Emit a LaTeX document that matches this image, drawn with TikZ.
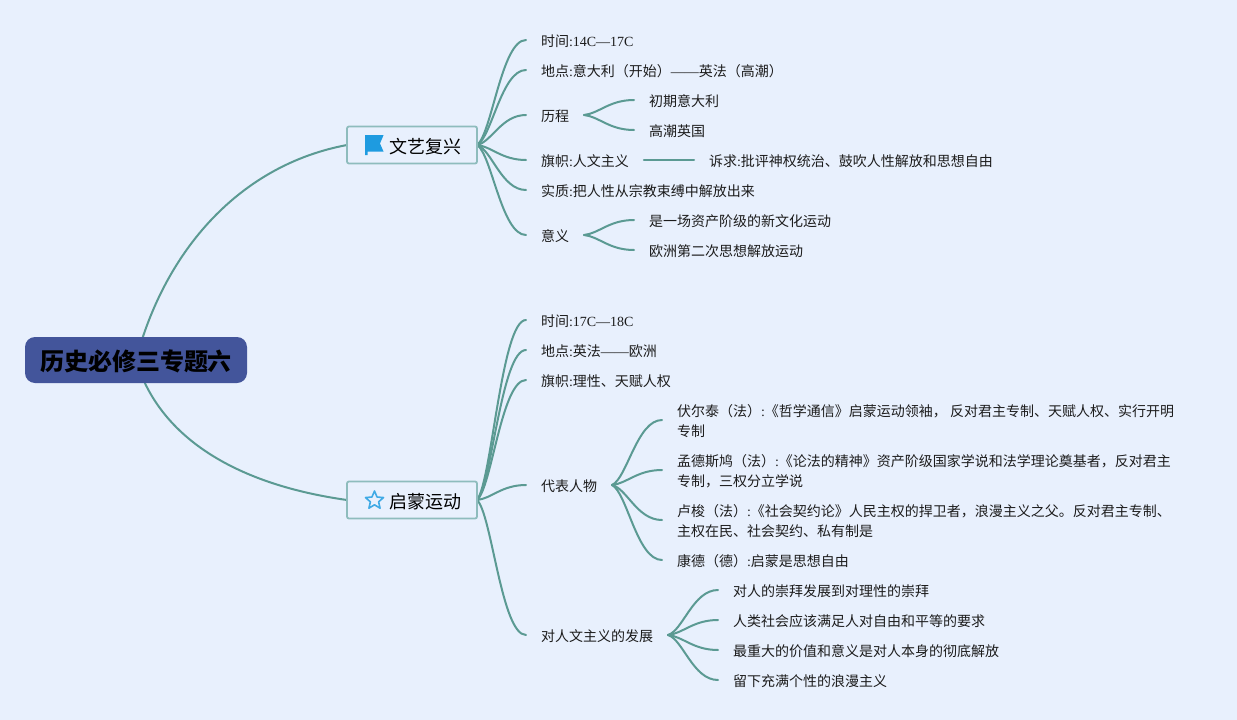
\documentclass[tikz,border=0pt]{standalone}
\usepackage{fontspec}
\setmainfont{Noto Sans CJK SC}
\newfontfamily\lat{Liberation Serif}
\usetikzlibrary{calc,backgrounds,shapes.geometric}
\definecolor{bgc}{HTML}{E8F0FD}
\definecolor{linkc}{HTML}{5B9A93}
\definecolor{rootc}{HTML}{43559B}
\definecolor{boxline}{HTML}{8EBCBD}
\definecolor{iconc}{HTML}{1E9BE0}
\definecolor{ink}{HTML}{1C1C1C}
\newcommand\La[1]{{\lat #1}}
\newcommand\conn[2]{\draw[link] (#1) .. controls ($0.7*(#1)+0.1*(#2)+0.2*(#2 |- #1)$) and ($(#1 |- #2)!0.5!(#2)$) .. (#2);}
\tikzset{
  link/.style={draw=linkc,line width=2pt,line cap=round},
  leaf/.style={anchor=west,inner xsep=15pt,inner ysep=0pt,outer sep=0pt,align=left,text=ink,text height=12pt,text depth=0pt,font=\fontsize{14}{20}\selectfont},
  twoline/.style={text height=32pt},
  branch/.style={draw=boxline,line width=1.8pt,fill=bgc,rounded corners=2pt,minimum width=130pt,minimum height=37pt,inner sep=0pt,outer sep=0pt,text=black,text height=16pt,text depth=0pt,font=\fontsize{18}{22}\selectfont},
  rootbox/.style={fill=rootc,rounded corners=10pt,minimum width=222pt,minimum height=46pt,inner sep=0pt,text=black,text height=20.6pt,text depth=0pt,font=\fontsize{24}{28}\selectfont\bfseries},
}
\begin{document}
\begin{tikzpicture}[x=1pt,y=-1pt]
\useasboundingbox (0,0) rectangle (1237,720);
\node[rootbox] (root) at (136,360) {历史必修三专题六};
\node[branch] (b1) at (412,145) {\hspace{26pt}文艺复兴};
\node[branch] (b2) at (412,500) {\hspace{26pt}启蒙运动};
\fill[iconc] (365,135) -- (383.6,135) -- (380,143.5) -- (383.6,151.7) -- (367.7,151.7) -- (367.7,155) -- (365,155) -- cycle;
\node[star,star points=5,star point ratio=2.2,draw=iconc!85!white,line width=1.6pt,line join=round,minimum size=19pt,inner sep=0pt] (staricon) at (374.5,500.5) {};
% first branch
\node[leaf] (a1) at (526,40) {时间\La{:14C—17C}};
\node[leaf] (a2) at (526,70) {地点\La{:}意大利（开始）\La{——}英法（高潮）};
\node[leaf] (a3) at (526,115) {历程};
\node[leaf] (a31) at (634,100) {初期意大利};
\node[leaf] (a32) at (634,130) {高潮英国};
\node[leaf] (a4) at (526,160) {旗帜\La{:}人文主义};
\node[leaf] (a41) at (694,160) {诉求\La{:}批评神权统治、鼓吹人性解放和思想自由};
\node[leaf] (a5) at (526,190) {实质\La{:}把人性从宗教束缚中解放出来};
\node[leaf] (a6) at (526,235) {意义};
\node[leaf] (a61) at (634,220) {是一场资产阶级的新文化运动};
\node[leaf] (a62) at (634,250) {欧洲第二次思想解放运动};
% second branch
\node[leaf] (c1) at (526,320) {时间\La{:17C—18C}};
\node[leaf] (c2) at (526,350) {地点\La{:}英法\La{——}欧洲};
\node[leaf] (c3) at (526,380) {旗帜\La{:}理性、天赋人权};
\node[leaf] (c4) at (526,485) {代表人物};
\node[leaf,twoline] (c41) at (662,420) {伏尔泰（法）\La{:}《哲学通信》启蒙运动领袖， 反对君主专制、天赋人权、实行开明\\专制};
\node[leaf,twoline] (c42) at (662,470) {孟德斯鸠（法）\La{:}《论法的精神》资产阶级国家学说和法学理论奠基者，反对君主\\专制，三权分立学说};
\node[leaf,twoline] (c43) at (662,520) {卢梭（法）\La{:}《社会契约论》人民主权的捍卫者，浪漫主义之父。反对君主专制、\\主权在民、社会契约、私有制是};
\node[leaf] (c44) at (662,560) {康德（德）\La{:}启蒙是思想自由};
\node[leaf] (c5) at (526,635) {对人文主义的发展};
\node[leaf] (c51) at (718,590) {对人的崇拜发展到对理性的崇拜};
\node[leaf] (c52) at (718,620) {人类社会应该满足人对自由和平等的要求};
\node[leaf] (c53) at (718,650) {最重大的价值和意义是对人本身的彻底解放};
\node[leaf] (c54) at (718,680) {留下充满个性的浪漫主义};
\begin{scope}[on background layer]
\fill[bgc] (0,0) rectangle (1237,720);
\draw[link] (root.center) .. controls (165,250) and (240,165) .. (b1.west);
\draw[link] (root.center) .. controls (160,440) and (240,485) .. (b2.west);
\conn{b1.east}{a1.west}
\conn{b1.east}{a2.west}
\conn{b1.east}{a3.west}
\conn{b1.east}{a4.west}
\conn{b1.east}{a5.west}
\conn{b1.east}{a6.west}
\conn{a3.east}{a31.west}
\conn{a3.east}{a32.west}
\draw[link] (a4.east) -- (a41.west);
\conn{a6.east}{a61.west}
\conn{a6.east}{a62.west}
\conn{b2.east}{c1.west}
\conn{b2.east}{c2.west}
\conn{b2.east}{c3.west}
\conn{b2.east}{c4.west}
\conn{b2.east}{c5.west}
\conn{c4.east}{c41.west}
\conn{c4.east}{c42.west}
\conn{c4.east}{c43.west}
\conn{c4.east}{c44.west}
\conn{c5.east}{c51.west}
\conn{c5.east}{c52.west}
\conn{c5.east}{c53.west}
\conn{c5.east}{c54.west}
\end{scope}
\end{tikzpicture}
\end{document}
